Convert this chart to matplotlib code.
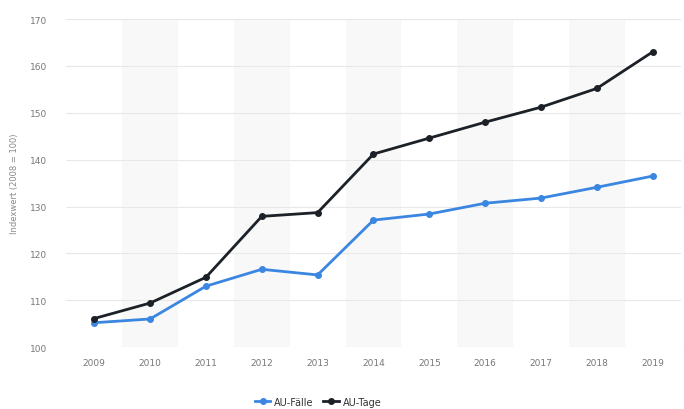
import matplotlib
matplotlib.use('Agg')
import matplotlib.pyplot as plt

years = ['2009', '2010', '2011', '2012', '2013', '2014', '2015', '2016', '2017', '2018', '2019']
au_faelle = [105.2, 106.0, 113.0, 116.6, 115.4, 127.1, 128.4, 130.7, 131.8, 134.1, 136.5]
au_tage = [106.1, 109.4, 114.9, 127.9, 128.7, 141.2, 144.6, 148.0, 151.2, 155.2, 163.0]

plt.rcParams['font.family'] = ['DejaVu Sans']

fig = plt.figure(figsize=(6.84, 4.10), dpi=100)
ax = fig.add_axes([0.097, 0.151, 0.898, 0.8])

x = list(range(len(years)))
# alternating column shading
for i in x:
    if i % 2 == 1:
        ax.axvspan(i - 0.5, i + 0.5, color='#f8f8f8', zorder=0, lw=0)

ax.plot(x, au_faelle, color='#3a86e0', lw=2.0, marker='o', ms=4, label='AU-Fälle', zorder=3)
ax.plot(x, au_tage, color='#1b2127', lw=2.0, marker='o', ms=4, label='AU-Tage', zorder=3)

ax.set_xlim(-0.5, 10.5)
ax.set_ylim(100, 170)
ax.set_yticks(range(100, 171, 10))
ax.set_xticks(x)
ax.set_xticklabels(years)
ax.grid(axis='y', color='#e8e8e8', lw=0.8, zorder=1)
ax.set_axisbelow(True)
for s in ax.spines.values():
    s.set_visible(False)
ax.tick_params(length=0, labelsize=6.5, colors='#777777', pad=8)
ax.tick_params(axis='y', pad=14)
ax.set_ylabel('Indexwert (2008 = 100)', fontsize=6, color='#888888', labelpad=8)

leg = ax.legend(loc='upper center', bbox_to_anchor=(0.41, -0.125), ncol=2, frameon=False,
                fontsize=7, handlelength=1.6, columnspacing=1.0, handletextpad=0.4)
for t in leg.get_texts():
    t.set_color('#333333')

fig.savefig('out.png', dpi=100)
